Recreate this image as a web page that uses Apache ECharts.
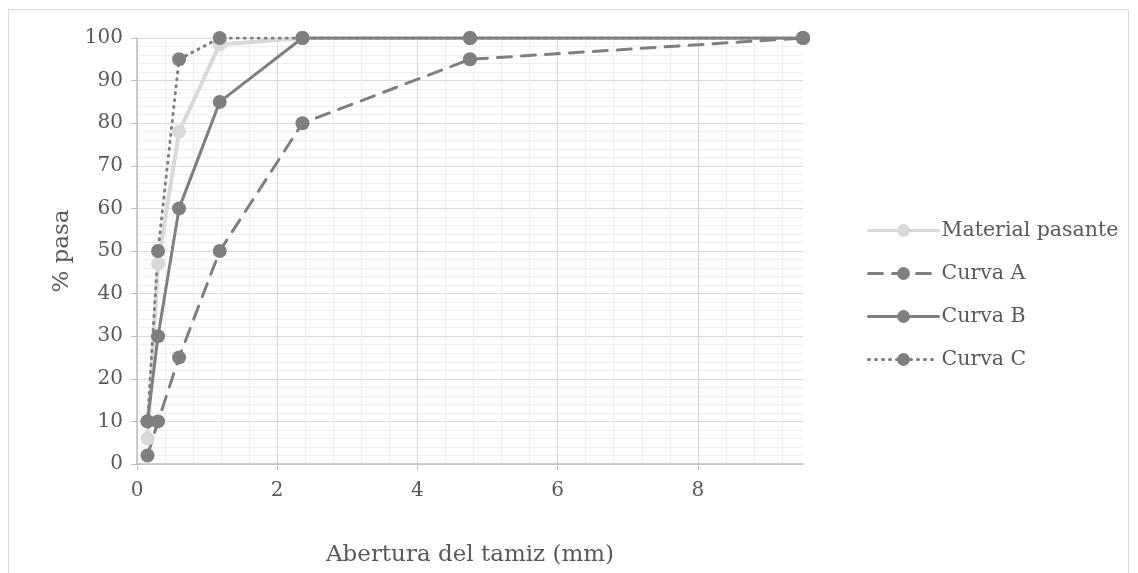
<!DOCTYPE html>
<html><head><meta charset="utf-8">
<script src="https://cdn.jsdelivr.net/npm/echarts@6/dist/echarts.min.js"></script>
<style>
html,body{margin:0;padding:0;background:#fff;}
#frame{position:absolute;left:8px;top:9px;width:1121px;height:600px;border:1px solid #d9d9d9;box-sizing:border-box;}
#c{position:absolute;left:0;top:0;width:1138px;height:573px;}
</style></head>
<body><div id="frame"></div><div id="c"></div>
<script>
const sieves = [0.15, 0.3, 0.6, 1.18, 2.36, 4.75, 9.5];
const materialPasante = [6, 47, 78, 98.5, 100, 100, 100];
const curvaA = [2, 10, 25, 50, 80, 95, 100];
const curvaB = [10, 30, 60, 85, 100, 100, 100];
const curvaC = [10, 50, 95, 100, 100, 100, 100];
const seriesNames = ['Material pasante', 'Curva A', 'Curva B', 'Curva C'];
const xTitle = 'Abertura del tamiz (mm)';
const yTitle = '% pasa';

const FONT = 'DejaVu Serif';
const dark = '#7f7f7f', light = '#d9d9d9', txt = '#595959';
function pts(v){ return sieves.map((x,i)=>[x,v[i]]); }
function mk(name, data, color, type, width){
  return {name, type:'line', data:pts(data), symbol:'circle', symbolSize:14,
    itemStyle:{color}, lineStyle:{color, width, type, cap:'round'}, z: 2};
}
const chart = echarts.init(document.getElementById('c'), null, {renderer:'canvas'});
chart.setOption({
  animation:false,
  grid:{left:137, right:335, top:38, bottom:109, containLabel:false},
  legend:{orient:'vertical', left:862, top:214, itemGap:20, itemWidth:70, itemHeight:16,
    data:seriesNames,
    lineStyle:{width:3},
    textStyle:{fontFamily:FONT, fontSize:20.5, color:txt, lineHeight:23, padding:[0,0,0,-2]}},
  xAxis:{type:'value', min:0, max:9.5, interval:2,
    name:xTitle, nameLocation:'middle', nameGap:80,
    nameTextStyle:{fontFamily:FONT, fontSize:23, color:txt},
    axisLine:{show:true, lineStyle:{color:'#bfbfbf', width:1.5}},
    axisTick:{show:true, length:6, lineStyle:{color:'#bfbfbf'}},
    axisLabel:{fontFamily:FONT, fontSize:20, color:txt, margin:17, showMaxLabel:false},
    splitLine:{show:true, showMaxLine:false, lineStyle:{color:'#d9d9d9', width:1.2}},
    minorTick:{show:false, splitNumber:5},
    minorSplitLine:{show:true, lineStyle:{color:'#eeeeee', width:1.2}}},
  yAxis:{type:'value', min:0, max:100, interval:10,
    name:yTitle, nameLocation:'middle', nameGap:63, nameRotate:90,
    nameTextStyle:{fontFamily:FONT, fontSize:23, color:txt},
    axisLine:{show:true, lineStyle:{color:'#bfbfbf', width:1.5}},
    axisTick:{show:true, length:6, lineStyle:{color:'#bfbfbf'}},
    axisLabel:{fontFamily:FONT, fontSize:20, color:txt, margin:14},
    splitLine:{show:true, lineStyle:{color:'#d9d9d9', width:1.2}},
    minorTick:{show:false, splitNumber:5},
    minorSplitLine:{show:true, lineStyle:{color:'#eeeeee', width:1.2}}},
  series:[
    mk(seriesNames[0], materialPasante, light, 'solid', 4),
    mk(seriesNames[1], curvaA, dark, [14,10], 3),
    mk(seriesNames[2], curvaB, dark, 'solid', 3),
    mk(seriesNames[3], curvaC, dark, [1,6], 3)
  ]
});
</script></body></html>
